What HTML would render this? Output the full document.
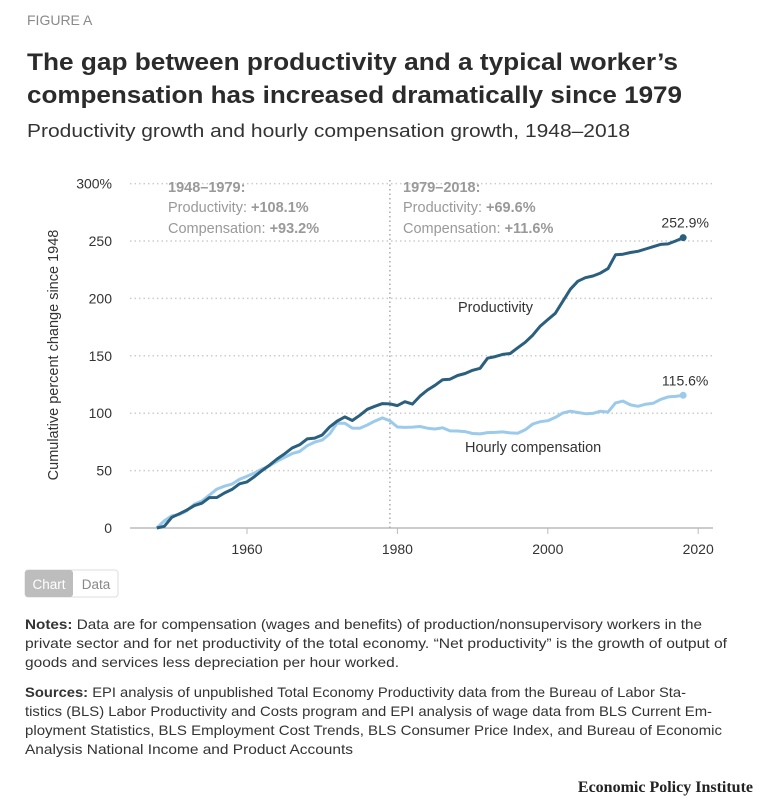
<!DOCTYPE html>
<html><head><meta charset="utf-8"><style>
html,body{margin:0;padding:0;background:#fff;width:770px;height:800px;overflow:hidden}
svg text{font-family:"Liberation Sans",sans-serif}
</style></head><body>
<svg id="fig" width="770" height="800" xmlns="http://www.w3.org/2000/svg">
<text x="27" y="25" font-size="14" fill="#8a8a8a">FIGURE A</text>
<text x="27" y="70" font-size="24" font-weight="bold" fill="#2b2b2b" textLength="651" lengthAdjust="spacingAndGlyphs">The gap between productivity and a typical worker’s</text>
<text x="27" y="103" font-size="24" font-weight="bold" fill="#2b2b2b" textLength="655" lengthAdjust="spacingAndGlyphs">compensation has increased dramatically since 1979</text>
<text x="27" y="137" font-size="18" fill="#333" textLength="603" lengthAdjust="spacingAndGlyphs">Productivity growth and hourly compensation growth, 1948–2018</text>
<text transform="translate(58,355) rotate(-90)" text-anchor="middle" font-size="14.5" fill="#333">Cumulative percent change since 1948</text>
<g id="grid"></g>
<g id="ann">
<text x="168" y="192" font-size="14.5" font-weight="bold" fill="#999">1948–1979:</text>
<text x="168" y="212" font-size="14.5" fill="#999">Productivity: <tspan font-weight="bold">+108.1%</tspan></text>
<text x="168" y="233" font-size="14.5" fill="#999">Compensation: <tspan font-weight="bold">+93.2%</tspan></text>
<text x="403" y="192" font-size="14.5" font-weight="bold" fill="#999">1979–2018:</text>
<text x="403" y="212" font-size="14.5" fill="#999">Productivity: <tspan font-weight="bold">+69.6%</tspan></text>
<text x="403" y="233" font-size="14.5" fill="#999">Compensation: <tspan font-weight="bold">+11.6%</tspan></text>
<text x="458" y="312" font-size="14.5" fill="#333">Productivity</text>
<text x="465" y="452" font-size="14.5" fill="#333">Hourly compensation</text>
</g>
<g id="marks"></g>
<rect x="25" y="570" width="93" height="27" rx="3" fill="#fff" stroke="#ddd"/>
<rect x="25" y="570" width="48" height="27" rx="3" fill="#bdbdbd"/>
<text x="49" y="589" text-anchor="middle" font-size="13.5" fill="#fff">Chart</text>
<text x="96" y="589" text-anchor="middle" font-size="13.5" fill="#888">Data</text>
<g font-size="14" fill="#333">
<text x="25" y="629" textLength="677" lengthAdjust="spacingAndGlyphs"><tspan font-weight="bold">Notes:</tspan> Data are for compensation (wages and benefits) of production/nonsupervisory workers in the</text>
<text x="25" y="648" textLength="702" lengthAdjust="spacingAndGlyphs">private sector and for net productivity of the total economy. “Net productivity” is the growth of output of</text>
<text x="25" y="667" textLength="374" lengthAdjust="spacingAndGlyphs">goods and services less depreciation per hour worked.</text>
</g>
<g font-size="14" fill="#333">
<text x="25" y="697" textLength="661" lengthAdjust="spacingAndGlyphs"><tspan font-weight="bold">Sources:</tspan> EPI analysis of unpublished Total Economy Productivity data from the Bureau of Labor Sta-</text>
<text x="25" y="716" textLength="687" lengthAdjust="spacingAndGlyphs">tistics (BLS) Labor Productivity and Costs program and EPI analysis of wage data from BLS Current Em-</text>
<text x="25" y="735" textLength="697" lengthAdjust="spacingAndGlyphs">ployment Statistics, BLS Employment Cost Trends, BLS Consumer Price Index, and Bureau of Economic</text>
<text x="25" y="754" textLength="328" lengthAdjust="spacingAndGlyphs">Analysis National Income and Product Accounts</text>
</g>
<text x="753" y="792" text-anchor="end" font-size="16" font-weight="bold" fill="#222" style="font-family:'Liberation Serif',serif">Economic Policy Institute</text>
</svg>
<script>
const years=[];for(let y=1948;y<=2018;y++)years.push(y);
const productivity=[0,1.5,9.3,12.4,15.6,19.5,21.6,26.5,26.6,30.5,33.6,38.5,40.2,44.8,50.0,54.8,60.1,64.6,69.7,72.5,77.6,78.3,81.0,88.1,93.1,96.8,93.6,98.2,103.4,106.0,108.4,108.1,106.6,110.0,107.9,114.9,120.2,124.3,129.1,129.6,132.8,134.6,137.4,139.1,147.9,149.3,151.2,152.0,157.0,161.8,168.0,175.9,181.5,187.0,197.5,208.0,215.0,218.0,219.5,222.0,226.0,238.0,238.5,240,241,243,245,247,247.5,250,252.9];
const compensation=[0,6.3,10.5,11.8,15.0,20.8,23.5,28.7,33.9,36.4,38.2,42.4,45.0,47.9,51.4,54.3,58.2,61.5,64.8,66.6,71.7,74.8,76.6,82.0,91.3,91.3,87.0,86.9,89.7,93.1,95.9,93.4,88.0,87.6,87.9,88.4,86.9,86.2,87.3,84.6,84.5,84.0,82.3,82.0,83.1,83.3,83.7,82.8,82.6,85.5,90.6,92.6,93.5,96.3,100.2,101.7,100.6,99.6,99.8,101.7,101.0,109.0,110.5,107.2,106.0,107.8,108.6,112.0,114.2,114.6,115.6];
const yTicks=[0,50,100,150,200,250,300];
const yTickLabels=["0","50","100","150","200","250","300%"];
const xTicks=[1960,1980,2000,2020];
const NS="http://www.w3.org/2000/svg";
const X=y=>247+(y-1960)*7.52;
const Y=v=>528-v*1.148;
const grid=document.getElementById('grid'),marks=document.getElementById('marks');
function mk(tag,attrs,parent){const e=document.createElementNS(NS,tag);for(const k in attrs)e.setAttribute(k,attrs[k]);parent.appendChild(e);return e;}
yTicks.forEach((t,i)=>{
  if(t>0){const l=mk('line',{x1:130,x2:713,y1:Y(t),y2:Y(t),stroke:'#ccc','stroke-width':1.5,'stroke-dasharray':'1.5 3'},grid);
  
  }
  const tx=mk('text',{x:112,y:Y(t)+5,'text-anchor':'end','font-size':14,fill:'#333'},grid);tx.textContent=yTickLabels[i];
  
  
});
const base=mk('line',{x1:130,x2:713,y1:Y(0),y2:Y(0),stroke:'#bbb','stroke-width':1.5},grid);


xTicks.forEach(t=>{
  const tk=mk('line',{x1:X(t),x2:X(t),y1:Y(0),y2:Y(0)+6,stroke:'#bbb'},grid);
  
  
  const tx=mk('text',{x:X(t),y:Y(0)+26,'text-anchor':'middle','font-size':14,fill:'#333'},grid);tx.textContent=t;
  
  
});
const vl=mk('line',{x1:X(1979),x2:X(1979),y1:180,y2:Y(0),stroke:'#aaa','stroke-width':1.5,'stroke-dasharray':'1.5 3'},grid);


function line(vals,color,name){
  const d=vals.map((v,i)=>(i?'L':'M')+X(years[i]).toFixed(1)+','+Y(v).toFixed(1)).join('');
  const p=mk('path',{d:d,fill:'none',stroke:color,'stroke-width':3,'stroke-linejoin':'round'},marks);
  
  
  const n=vals.length-1;
  const c=mk('circle',{cx:X(years[n]),cy:Y(vals[n]),r:3.5,fill:color},marks);
  
  
  const t=mk('text',{x:X(years[n])+2,y:Y(vals[n])-10,'text-anchor':'middle','font-size':14,fill:'#333'},marks);
  t.textContent=vals[n].toFixed(1)+'%';
  
  
}
line(compensation,'#9ccaeb','compensation');
line(productivity,'#2b5f7e','productivity');
</script>
</body></html>
